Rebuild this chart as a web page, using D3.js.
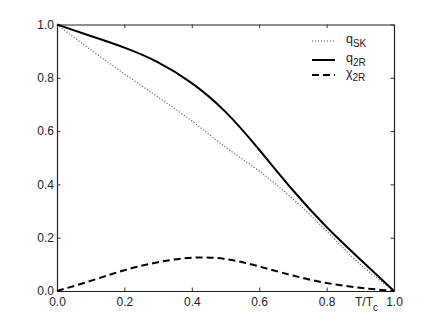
<!DOCTYPE html>
<meta charset="utf-8">
<style>

body {
  margin: 0;
  background-color: white;
  overflow: hidden;
}

text {
  font-family: "Liberation Sans", Arial, sans-serif;
  fill: #222;
}

.curve {
  fill: none;
}

</style>
<body>

<script src="https://d3js.org/d3.v7.min.js"></script>
<script>
// values
var temps = [0, 0.1, 0.2, 0.3, 0.4, 0.5, 0.6, 0.7, 0.8, 0.9, 1.0];
var qSK   = [1, 0.905, 0.815, 0.727, 0.638, 0.54, 0.45, 0.345, 0.225, 0.10, 0];
var q2R   = [1, 0.957, 0.913, 0.858, 0.78, 0.672, 0.53, 0.378, 0.24, 0.118, 0];
var chi2R = [0, 0.038, 0.078, 0.108, 0.125, 0.12, 0.092, 0.058, 0.03, 0.012, 0];
var ticks = [0, 0.2, 0.4, 0.6, 0.8, 1.0];

var width = 436,
    height = 328;

var x = d3.scaleLinear().domain([0, 1]).range([57, 394]);
var y = d3.scaleLinear().domain([0, 1]).range([291, 24.5]);

var svg = d3.select("body").append("svg")
    .attr("width", width)
    .attr("height", height);

var fmt = d3.format(".1f");

// axes, ticks point inward on every side
svg.append("g")
    .attr("transform", "translate(0," + y(0) + ")")
    .call(d3.axisBottom(x).tickValues(ticks).tickFormat(fmt).tickSizeInner(-3.5).tickSizeOuter(0).tickPadding(6))
    .call(styleAxis);

svg.append("g")
    .attr("transform", "translate(" + x(0) + ",0)")
    .call(d3.axisLeft(y).tickValues(ticks).tickFormat(fmt).tickSizeInner(-3.5).tickSizeOuter(0).tickPadding(3))
    .call(styleAxis);

svg.append("g")
    .attr("transform", "translate(0," + y(1) + ")")
    .call(d3.axisTop(x).tickValues(ticks).tickFormat("").tickSizeInner(-3.5).tickSizeOuter(0))
    .call(styleAxis);

svg.append("g")
    .attr("transform", "translate(" + x(1) + ",0)")
    .call(d3.axisRight(y).tickValues(ticks).tickFormat("").tickSizeInner(-3.5).tickSizeOuter(0))
    .call(styleAxis);

function styleAxis(g) {
  g.select(".domain").attr("stroke", "#222").attr("stroke-width", 1.2);
  g.selectAll(".tick line").attr("stroke", "#333");
  g.selectAll(".tick text")
      .attr("fill", "#222")
      .style("font-size", "12px")
      .style("font-family", "'Liberation Sans', Arial, sans-serif");
}

// x label
var xl = svg.append("text")
    .attr("x", 378)
    .attr("y", 306)
    .attr("text-anchor", "end")
    .style("font-size", "12px");
xl.append("tspan").text("T/T");
xl.append("tspan").attr("dy", 5).style("font-size", "10px").text("c");

var line = d3.line()
    .x(function(d, i) { return x(temps[i]); })
    .y(function(d) { return y(d); })
    .curve(d3.curveNatural);

var series = [
  {name: "q", sub: "SK", values: qSK, stroke: "#555", width: 1.2, dash: "1,2"},
  {name: "q", sub: "2R", values: q2R, stroke: "#000", width: 2, dash: null},
  {name: "\u03c7", sub: "2R", values: chi2R, stroke: "#000", width: 2, dash: "7,4"}
];

svg.selectAll(".curve")
    .data(series)
  .enter().append("path")
    .attr("class", "curve")
    .attr("d", function(d) { return line(d.values); })
    .attr("stroke", function(d) { return d.stroke; })
    .attr("stroke-width", function(d) { return d.width; })
    .attr("stroke-dasharray", function(d) { return d.dash; });

// legend
var legendY = [41, 60, 75];
var legend = svg.selectAll(".legend")
    .data(series)
  .enter().append("g")
    .attr("class", "legend")
    .attr("transform", function(d, i) { return "translate(0," + legendY[i] + ")"; });

legend.append("line")
    .attr("x1", 312)
    .attr("x2", 335)
    .attr("stroke", function(d) { return d.stroke; })
    .attr("stroke-width", function(d) { return d.width; })
    .attr("stroke-dasharray", function(d) { return d.dash; });

var lt = legend.append("text")
    .attr("x", 346)
    .attr("y", 2)
    .style("font-size", "12.5px");
lt.append("tspan").text(function(d) { return d.name; });
lt.append("tspan").attr("dy", 4).style("font-size", "10px").text(function(d) { return d.sub; });

</script>
